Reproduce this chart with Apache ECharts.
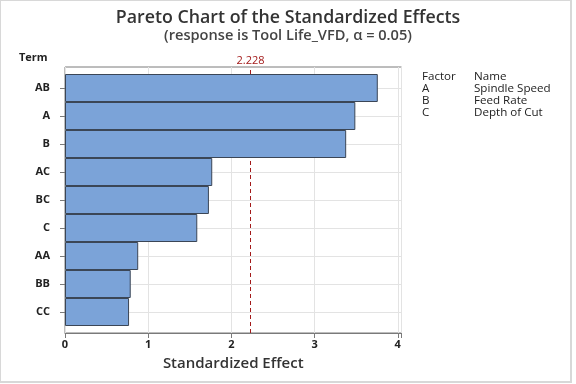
<!DOCTYPE html>
<html>
<head>
<meta charset="utf-8">
<script src="https://cdn.jsdelivr.net/npm/echarts@6/dist/echarts.min.js"></script>
<style>
html,body{margin:0;padding:0;background:#fff;}
#frame{position:absolute;left:0;top:0;width:569px;height:380px;border:1px solid #d8d8d8;border-right-width:2px;border-bottom-width:2px;}
#chart{position:absolute;left:0;top:0;width:576px;height:384px;}
</style>
</head>
<body>
<div id="frame"></div>
<div id="chart"></div>
<script>
const terms = ['AB', 'A', 'B', 'AC', 'BC', 'C', 'AA', 'BB', 'CC'];
const effects = [3.76, 3.49, 3.38, 1.77, 1.73, 1.59, 0.88, 0.79, 0.77];
const critical = 2.228;
const xTicks = [0, 1, 2, 3, 4];
const factorLetters = ['A', 'B', 'C'];
const factorNames = ['Spindle Speed', 'Feed Rate', 'Depth of Cut'];

const FONT = '"Open Sans", "Noto Sans", sans-serif';
const chart = echarts.init(document.getElementById('chart'), null, {renderer: 'canvas'});

const legendLines = ['{f|Factor}{v|Name}'];
factorLetters.forEach((f, i) => legendLines.push('{f|' + f + '}{v|' + factorNames[i] + '}'));

const xMax = 4.045;
const legendStyle = {fontSize: 11.6, color: '#222', fontFamily: FONT, fontWeight: 'normal', lineHeight: 12};

chart.setOption({
  animation: false,
  backgroundColor: 'transparent',
  textStyle: {fontFamily: FONT},
  title: [
    {
      text: 'Pareto Chart of the Standardized Effects',
      left: 'center', top: 9, padding: 0,
      textStyle: {fontFamily: FONT, fontSize: 17.8, fontWeight: 600, color: '#333'}
    },
    {
      text: '(response is Tool Life_VFD, α = 0.05)',
      left: 'center', top: 28, padding: 0,
      textStyle: {fontFamily: FONT, fontSize: 14.6, fontWeight: 600, color: '#444'}
    },
    {
      text: 'Term', left: 19, top: 52, padding: 0,
      textStyle: {fontFamily: FONT, fontSize: 11, fontWeight: 'bold', color: '#222'}
    },
    {
      text: legendLines.join('\n'), left: 422, top: 71, padding: 0,
      textStyle: Object.assign({}, legendStyle, {
        rich: {
          f: Object.assign({width: 52}, legendStyle),
          v: Object.assign({}, legendStyle)
        }
      })
    }
  ],
  grid: [
    {left: 65, right: 174.5, top: 74, bottom: 58, containLabel: false},
    {left: 65, right: 174.5, top: 67, bottom: 51, containLabel: false, show: true, borderColor: '#7a7a7a', borderWidth: 1, backgroundColor: 'transparent'}
  ],
  xAxis: [
    {gridIndex: 0, type: 'value', min: 0, max: xMax, show: false},
    {
      gridIndex: 1, type: 'value', min: 0, max: xMax, interval: 1,
      axisLine: {show: true, lineStyle: {color: '#7a7a7a'}},
      axisTick: {show: true, length: 5, lineStyle: {color: '#7a7a7a'}},
      axisLabel: {fontFamily: FONT, fontSize: 11, fontWeight: 'bold', color: '#222', margin: 6,
        formatter: v => (xTicks.indexOf(v) >= 0 ? String(v) : '')},
      splitLine: {show: true, lineStyle: {color: '#e3e3e3'}},
      name: 'Standardized Effect', nameLocation: 'middle', nameGap: 23,
      nameTextStyle: {fontFamily: FONT, fontSize: 15, fontWeight: 600, color: '#333'}
    }
  ],
  yAxis: [
    {
      gridIndex: 0, type: 'category', data: terms, inverse: true,
      axisLine: {show: false},
      axisTick: {show: true, alignWithLabel: true, length: 5, lineStyle: {color: '#7a7a7a'}},
      axisLabel: {fontFamily: FONT, fontSize: 11, fontWeight: 'bold', color: '#222', margin: 15},
      splitLine: {show: false}
    },
    {gridIndex: 1, type: 'value', min: 0, max: 1, show: false}
  ],
  series: [
    {
      type: 'line', xAxisIndex: 0, yAxisIndex: 0, data: [], z: 1,
      markLine: {
        z: 1, silent: true, symbol: 'none', label: {show: false},
        lineStyle: {color: '#e3e3e3', type: 'solid', width: 1},
        data: terms.map(t => ({yAxis: t}))
      }
    },
    {
      type: 'line', xAxisIndex: 1, yAxisIndex: 1, data: [], z: 2,
      markLine: {
        z: 2, silent: true, symbol: 'none',
        lineStyle: {color: '#a31a1a', type: [4, 3], width: 1},
        label: {show: true, position: 'end', formatter: String(critical), color: '#a31a1a',
          fontFamily: FONT, fontSize: 11, distance: 1},
        data: [{xAxis: critical}]
      }
    },
    {
      type: 'bar', xAxisIndex: 0, yAxisIndex: 0, data: effects, z: 10,
      barCategoryGap: '0%', barWidth: '100%',
      itemStyle: {color: '#7ba3d8', borderColor: '#3b4656', borderWidth: 1}
    }
  ]
});
</script>
</body>
</html>
